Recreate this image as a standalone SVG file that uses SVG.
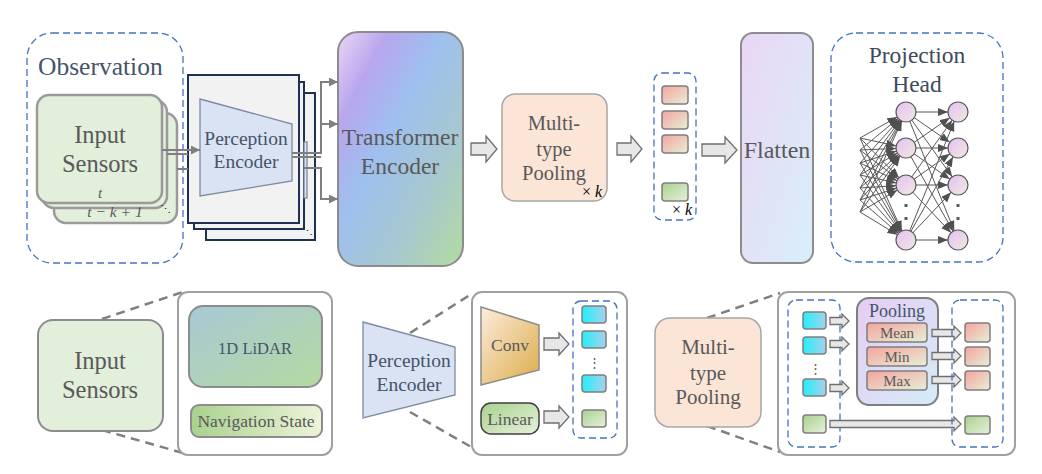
<svg xmlns="http://www.w3.org/2000/svg" width="1042" height="474" viewBox="0 0 1042 474" font-family="Liberation Serif, Tinos, Times New Roman, Times, DejaVu Serif, serif">
<defs>
<linearGradient id="gT" x1="0" y1="0" x2="1" y2="1"><stop offset="0" stop-color="#ecd6f6"/><stop offset="0.2" stop-color="#b8a6ee"/><stop offset="0.42" stop-color="#9ec0ef"/><stop offset="0.7" stop-color="#a7c8cf"/><stop offset="1" stop-color="#b2dba0"/></linearGradient>
<linearGradient id="gF" x1="0" y1="0" x2="1" y2="1"><stop offset="0" stop-color="#ead6f4"/><stop offset="1" stop-color="#d8effa"/></linearGradient>
<linearGradient id="gL" x1="0" y1="0" x2="1" y2="1"><stop offset="0" stop-color="#a8c8d6"/><stop offset="1" stop-color="#b4daa0"/></linearGradient>
<linearGradient id="gN" x1="0" y1="0" x2="1" y2="0"><stop offset="0" stop-color="#a9d18e"/><stop offset="1" stop-color="#eef4da"/></linearGradient>
<linearGradient id="gR" x1="0" y1="0" x2="1" y2="1"><stop offset="0" stop-color="#f4a4a0"/><stop offset="1" stop-color="#e6efd6"/></linearGradient>
<linearGradient id="gG" x1="0" y1="0" x2="1" y2="1"><stop offset="0" stop-color="#a9d18e"/><stop offset="1" stop-color="#e6f1dc"/></linearGradient>
<linearGradient id="gCy" x1="0" y1="0" x2="1" y2="0"><stop offset="0" stop-color="#22f0fa"/><stop offset="1" stop-color="#a9cfec"/></linearGradient>
<linearGradient id="gC" x1="0" y1="0" x2="1" y2="1"><stop offset="0" stop-color="#fcecdc"/><stop offset="1" stop-color="#dcac48"/></linearGradient>
<linearGradient id="gP" x1="0" y1="0" x2="1" y2="1"><stop offset="0" stop-color="#e6ccf2"/><stop offset="1" stop-color="#d4ecf8"/></linearGradient>
<linearGradient id="gNode" x1="0" y1="0" x2="1" y2="1"><stop offset="0" stop-color="#e2c2f0"/><stop offset="1" stop-color="#f2e8e2"/></linearGradient>
<marker id="ag" markerUnits="userSpaceOnUse" markerWidth="10" markerHeight="10" refX="9" refY="4.5" orient="auto"><path d="M0,0 L9,4.5 L0,9 z" fill="#7f7f7f"/></marker>
<marker id="an" markerUnits="userSpaceOnUse" markerWidth="11" markerHeight="9" refX="20" refY="4" orient="auto"><path d="M0,0 L10,4 L0,8 z" fill="#505050"/></marker>
</defs>
<style>
.t{font-family:'Liberation Serif',Tinos,'Times New Roman',Times,'DejaVu Serif',serif;fill:#595959;text-anchor:middle}
.tb{fill:#44546a}
.dash{fill:#fff;stroke:#4472c4;stroke-width:1.3;stroke-dasharray:7 4}
.card{fill:#e2efda;stroke:#9a9a9a;stroke-width:2.5}
.stk{fill:#f2f2f2;stroke:#1f3050;stroke-width:2}
.trap{fill:#dae3f3;stroke:#7f8aa0;stroke-width:1.3}
.gbox{stroke:#8c8c8c;stroke-width:2}
.det{fill:#fff;stroke:#a0a0a0;stroke-width:2}
.conn{fill:none;stroke:#7f7f7f;stroke-width:2}
.barrow{fill:#e7e7e7;stroke:#6f6f6f;stroke-width:1.3}
.tok{stroke:#7f7f7f;stroke-width:1.5}
.nn line{stroke:#595959;stroke-width:1;marker-end:url(#an)}
.zoom{fill:none;stroke:#7f7f7f;stroke-width:2.5;stroke-dasharray:9 6}
.node{fill:url(#gNode);stroke:#595959;stroke-width:1.2}
</style>
<rect width="1042" height="474" fill="#fff"/>

<g id="observation">
<rect class="dash" x="27" y="33" width="156" height="230" rx="25"/>
<text class="t tb" x="38" y="75" font-size="25.5" style="text-anchor:start">Observation</text>
<rect class="card" x="54" y="113" width="123" height="110" rx="12"/>
<rect class="card" x="42" y="100" width="125" height="108" rx="12"/>
<rect class="card" x="37" y="95" width="125" height="108" rx="12"/>
<text class="t" x="100" y="143" font-size="24.5">Input</text>
<text class="t" x="100" y="172" font-size="24.5">Sensors</text>
<text class="t" x="100" y="198" font-size="15" font-style="italic">t</text>
<text class="t" x="115" y="217" font-size="15.5" font-style="italic">t − k + 1</text>
<text class="t" x="165" y="213" font-size="11" style="fill:#202020">⋱</text>
</g>

<g id="perception-encoder-stack">
<rect class="stk" x="206" y="93" width="109" height="147"/>
<rect class="stk" x="194" y="82" width="110" height="147"/>
<rect class="trap" x="304" y="142" width="3" height="56"/>
<rect class="stk" x="188" y="75" width="111" height="148"/>
<polygon class="trap" points="200,99 292,124 292,181 200,196"/>
<text class="t tb" x="246" y="145" font-size="19.5">Perception</text>
<text class="t tb" x="246" y="168" font-size="19.5">Encoder</text>
<text class="t" x="307" y="235" font-size="11" style="fill:#202020">⋱</text>
</g>

<g id="transformer">
<rect class="gbox" x="338" y="32" width="125" height="234" rx="20" fill="url(#gT)"/>
<text class="t" x="400" y="145" font-size="23.5">Transformer</text>
<text class="t" x="400" y="174" font-size="23.5">Encoder</text>
</g>

<g id="pooling-top">
<rect x="502" y="94" width="105" height="107" rx="13" fill="#fbe5d6" stroke="#a6a6a6" stroke-width="1.5"/>
<text class="t" x="554" y="130" font-size="20.5">Multi-</text>
<text class="t" x="554" y="156" font-size="20.5">type</text>
<text class="t" x="554" y="180" font-size="20.5">Pooling</text>
<text class="t" x="592" y="197" font-size="16" style="fill:#000">× <tspan font-style="italic">k</tspan></text>
</g>

<g id="tokens-top">
<rect class="dash" x="654" y="73" width="42" height="147" rx="8"/>
<rect class="tok" x="662" y="86" width="26" height="18" rx="3" fill="url(#gR)"/>
<rect class="tok" x="662" y="111" width="26" height="18" rx="3" fill="url(#gR)"/>
<rect class="tok" x="662" y="135" width="26" height="18" rx="3" fill="url(#gR)"/>
<rect class="tok" x="662" y="183" width="26" height="18" rx="3" fill="url(#gG)"/>
<text class="t" x="682" y="215" font-size="16" style="fill:#000">× <tspan font-style="italic">k</tspan></text>
</g>

<g id="flatten">
<rect class="gbox" x="741" y="33" width="72" height="230" rx="12" fill="url(#gF)"/>
<text class="t" x="777" y="158" font-size="24">Flatten</text>
</g>

<g id="projection-head">
<rect class="dash" x="831" y="33" width="172" height="229" rx="25"/>
<text class="t" x="917" y="63" font-size="23.5" style="fill:#404a5a">Projection</text>
<text class="t" x="917" y="92" font-size="23.5" style="fill:#404a5a">Head</text>
<g class="nn">
<line x1="860" y1="138" x2="906" y2="112"/><line x1="860" y1="138" x2="906" y2="148"/><line x1="860" y1="138" x2="906" y2="185"/><line x1="860" y1="138" x2="906" y2="240"/>
<line x1="860" y1="150" x2="906" y2="112"/><line x1="860" y1="150" x2="906" y2="148"/><line x1="860" y1="150" x2="906" y2="185"/><line x1="860" y1="150" x2="906" y2="240"/>
<line x1="860" y1="163" x2="906" y2="112"/><line x1="860" y1="163" x2="906" y2="148"/><line x1="860" y1="163" x2="906" y2="185"/><line x1="860" y1="163" x2="906" y2="240"/>
<line x1="860" y1="175" x2="906" y2="112"/><line x1="860" y1="175" x2="906" y2="148"/><line x1="860" y1="175" x2="906" y2="185"/><line x1="860" y1="175" x2="906" y2="240"/>
<line x1="860" y1="188" x2="906" y2="112"/><line x1="860" y1="188" x2="906" y2="148"/><line x1="860" y1="188" x2="906" y2="185"/><line x1="860" y1="188" x2="906" y2="240"/>
<line x1="860" y1="200" x2="906" y2="112"/><line x1="860" y1="200" x2="906" y2="148"/><line x1="860" y1="200" x2="906" y2="185"/><line x1="860" y1="200" x2="906" y2="240"/>
<line x1="860" y1="212" x2="906" y2="112"/><line x1="860" y1="212" x2="906" y2="148"/><line x1="860" y1="212" x2="906" y2="185"/><line x1="860" y1="212" x2="906" y2="240"/>
<line x1="906" y1="112" x2="958" y2="112"/><line x1="906" y1="112" x2="958" y2="148"/><line x1="906" y1="112" x2="958" y2="185"/><line x1="906" y1="112" x2="958" y2="240"/>
<line x1="906" y1="148" x2="958" y2="112"/><line x1="906" y1="148" x2="958" y2="148"/><line x1="906" y1="148" x2="958" y2="185"/><line x1="906" y1="148" x2="958" y2="240"/>
<line x1="906" y1="185" x2="958" y2="112"/><line x1="906" y1="185" x2="958" y2="148"/><line x1="906" y1="185" x2="958" y2="185"/><line x1="906" y1="185" x2="958" y2="240"/>
<line x1="906" y1="240" x2="958" y2="112"/><line x1="906" y1="240" x2="958" y2="148"/><line x1="906" y1="240" x2="958" y2="185"/><line x1="906" y1="240" x2="958" y2="240"/>
</g>
<circle class="node" cx="906" cy="112" r="10"/><circle class="node" cx="906" cy="148" r="10"/><circle class="node" cx="906" cy="185" r="10"/><circle class="node" cx="906" cy="240" r="10"/>
<circle class="node" cx="958" cy="112" r="10"/><circle class="node" cx="958" cy="148" r="10"/><circle class="node" cx="958" cy="185" r="10"/><circle class="node" cx="958" cy="240" r="10"/>
<rect x="904.5" y="204" width="3" height="3" fill="#595959"/><rect x="904.5" y="217" width="3" height="3" fill="#595959"/>
<rect x="956.5" y="204" width="3" height="3" fill="#595959"/><rect x="956.5" y="217" width="3" height="3" fill="#595959"/>
</g>

<g id="connectors">
<path class="conn" d="M162,150 H200" marker-end="url(#ag)"/>
<path class="conn" d="M167,154 H188"/>
<path class="conn" d="M177,169 H188"/>
<path class="conn" d="M292,153 H321 V82 H338" marker-end="url(#ag)"/>
<path class="conn" d="M321,124 H338" marker-end="url(#ag)"/>
<path class="conn" d="M292,157 H321"/>
<path class="conn" d="M304,168 H321 V199 H338" marker-end="url(#ag)"/>
<path class="barrow" d="M471,143 H486 V136 L497,149 L486,162 V155 H471 Z"/>
<path class="barrow" d="M617,143 H631 V136 L642,149 L631,162 V155 H617 Z"/>
<path class="barrow" d="M702,144 H725 V137 L737,150 L725,163 V156 H702 Z"/>
<path class="zoom" d="M102,319 L183,292"/>
<path class="zoom" d="M102,430 L183,453"/>
<path class="zoom" d="M410,333 L473,293"/>
<path class="zoom" d="M410,412 L473,448"/>
<path class="zoom" d="M707,318 L780,293"/>
<path class="zoom" d="M707,426 L780,452"/>
</g>

<g id="input-sensors-detail">
<rect class="card" x="38" y="320" width="125" height="111" rx="15" style="stroke:#8c8c8c;stroke-width:2"/>
<text class="t" x="100" y="369" font-size="24.5">Input</text>
<text class="t" x="100" y="398" font-size="24.5">Sensors</text>
<rect class="det" x="178" y="292" width="154" height="163" rx="10"/>
<rect class="gbox" x="189" y="306" width="133" height="81" rx="14" fill="url(#gL)"/>
<text class="t tb" x="255" y="354" font-size="16.5">1D LiDAR</text>
<rect class="gbox" x="191" y="405" width="131" height="32" rx="8" fill="url(#gN)"/>
<text class="t" x="256" y="427" font-size="17.5">Navigation State</text>
</g>

<g id="perception-encoder-detail">
<polygon class="trap" points="363,322 455,347 455,395 363,418"/>
<text class="t tb" x="409" y="367" font-size="19.5">Perception</text>
<text class="t tb" x="409" y="391" font-size="19.5">Encoder</text>
<rect class="det" x="472" y="292" width="155" height="163" rx="10"/>
<polygon points="481,307 539,325 539,370 481,385" fill="url(#gC)" stroke="#8c8c8c" stroke-width="1.5"/>
<text class="t" x="510" y="351" font-size="17.5">Conv</text>
<rect x="481" y="403" width="58" height="31" rx="10" fill="url(#gG)" stroke="#404040" stroke-width="1.5"/>
<text class="t" x="510" y="425" font-size="17.5">Linear</text>
<path class="barrow" d="M544,338 H559 V333 L569,344 L559,355 V350 H544 Z"/>
<path class="barrow" d="M544,411 H559 V406 L569,417 L559,428 V423 H544 Z"/>
<rect class="dash" x="573" y="301" width="44" height="137" rx="8"/>
<rect class="tok" x="582" y="306" width="24" height="17" rx="3" fill="url(#gCy)"/>
<rect class="tok" x="582" y="331" width="24" height="17" rx="3" fill="url(#gCy)"/>
<rect class="tok" x="582" y="375" width="24" height="17" rx="3" fill="url(#gCy)"/>
<rect class="tok" x="582" y="410" width="24" height="17" rx="3" fill="url(#gG)"/>
<text class="t" x="594" y="367" font-size="13">⋮</text>
</g>

<g id="pooling-detail">
<rect x="655" y="318" width="106" height="109" rx="15" fill="#fbe5d6" stroke="#a6a6a6" stroke-width="1.5"/>
<text class="t" x="708" y="354" font-size="21">Multi-</text>
<text class="t" x="708" y="380" font-size="21">type</text>
<text class="t" x="708" y="404" font-size="21">Pooling</text>
<rect class="det" x="778" y="292" width="237" height="163" rx="10"/>
<rect class="dash" x="788" y="300" width="52" height="147" rx="8"/>
<rect class="tok" x="803" y="312" width="23" height="17" rx="3" fill="url(#gCy)"/>
<rect class="tok" x="803" y="337" width="23" height="17" rx="3" fill="url(#gCy)"/>
<rect class="tok" x="803" y="379" width="23" height="17" rx="3" fill="url(#gCy)"/>
<rect class="tok" x="803" y="415" width="23" height="18" rx="3" fill="url(#gG)"/>
<text class="t" x="815" y="373" font-size="13">⋮</text>
<path class="barrow" d="M830,317.5 H842 V314 L849,321 L842,328 V324.5 H830 Z"/>
<path class="barrow" d="M830,340.5 H842 V337 L849,344 L842,351 V347.5 H830 Z"/>
<path class="barrow" d="M830,384.5 H842 V381 L849,388 L842,395 V391.5 H830 Z"/>
<rect x="857" y="298" width="81" height="107" rx="12" fill="url(#gP)" stroke="#7f7f7f" stroke-width="2"/>
<text class="t tb" x="897" y="317" font-size="18">Pooling</text>
<rect class="tok" x="867" y="323" width="60" height="19" rx="3" fill="url(#gR)"/>
<rect class="tok" x="867" y="347" width="60" height="19" rx="3" fill="url(#gR)"/>
<rect class="tok" x="867" y="371" width="60" height="19" rx="3" fill="url(#gR)"/>
<text class="t" x="897" y="338" font-size="15">Mean</text>
<text class="t" x="897" y="362" font-size="15">Min</text>
<text class="t" x="897" y="386" font-size="15">Max</text>
<path class="barrow" d="M932,329.5 H954 V326 L961,333 L954,340 V336.5 H932 Z"/>
<path class="barrow" d="M932,352.5 H954 V349 L961,356 L954,363 V359.5 H932 Z"/>
<path class="barrow" d="M932,376.5 H954 V373 L961,380 L954,387 V383.5 H932 Z"/>
<path class="barrow" d="M830,420.5 H954 V417 L961,424 L954,431 V427.5 H830 Z"/>
<rect class="dash" x="952" y="300" width="51" height="147" rx="8" style="fill:none"/>
<rect class="tok" x="965" y="323" width="25" height="19" rx="3" fill="url(#gR)"/>
<rect class="tok" x="965" y="347" width="25" height="19" rx="3" fill="url(#gR)"/>
<rect class="tok" x="965" y="371" width="25" height="19" rx="3" fill="url(#gR)"/>
<rect class="tok" x="965" y="416" width="25" height="18" rx="3" fill="url(#gG)"/>
</g>
</svg>
